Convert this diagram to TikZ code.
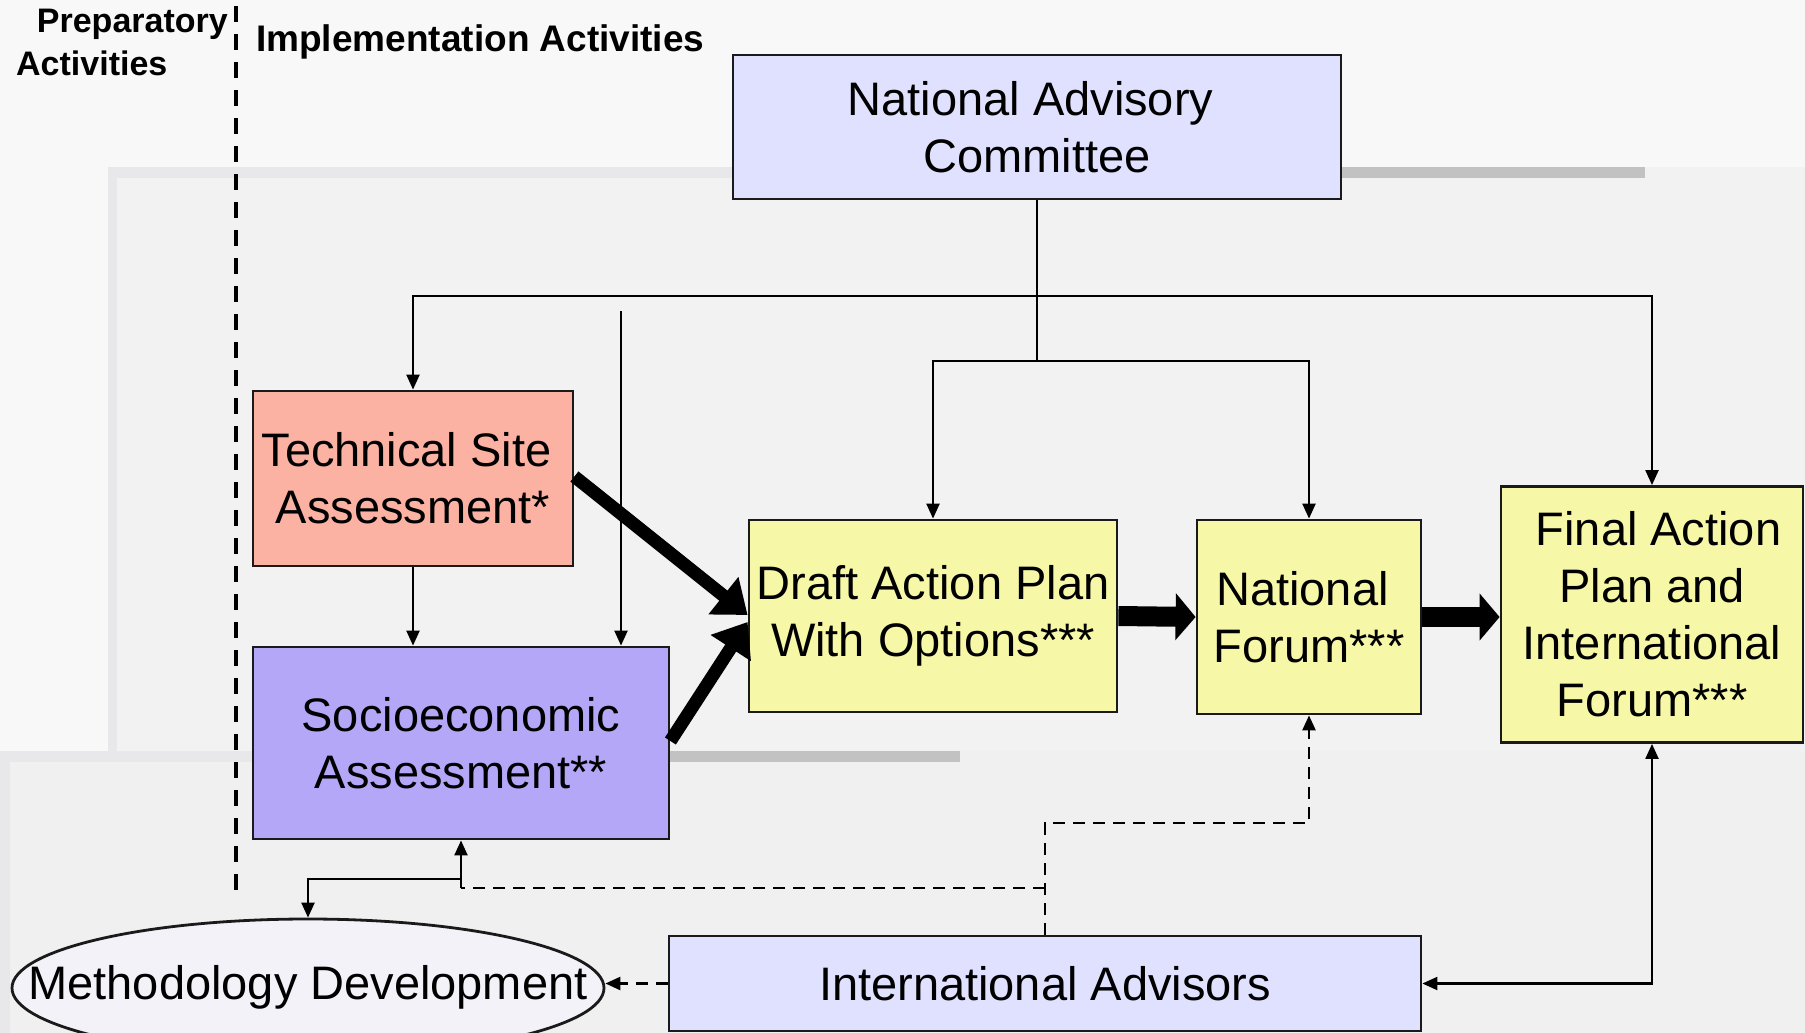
\documentclass[tikz,border=0pt]{standalone}
\usepackage{fontspec}
\setmainfont{Liberation Sans}
\usetikzlibrary{arrows.meta,shapes.geometric}
\definecolor{bgc}{HTML}{F8F8F8}
\definecolor{panelc}{HTML}{F2F2F2}
\definecolor{panelcc}{HTML}{F0F0F0}
\definecolor{barlight}{HTML}{E8E8EB}
\definecolor{bardark}{HTML}{C2C2C2}
\definecolor{lav}{HTML}{E0E0FF}
\definecolor{salmon}{HTML}{FBB2A2}
\definecolor{purp}{HTML}{B5A7F8}
\definecolor{yel}{HTML}{F7F7A8}
\definecolor{ellc}{HTML}{F2F2F8}
\definecolor{edge}{HTML}{1A1A1A}
\tikzset{
  box/.style={draw=edge, line width=2.8pt, inner sep=0pt, align=center,
    font=\fontsize{47}{57}\selectfont},
  lab/.style={inner sep=0pt, font=\fontsize{34}{40}\selectfont\bfseries},
  conn/.style={line width=2.2pt, -{Triangle[length=15pt,width=13pt]}},
  plainconn/.style={line width=2.2pt},
  biconn/.style={line width=2.2pt, {Triangle[length=15pt,width=13pt]}-{Triangle[length=15pt,width=13pt]}},
  dconn/.style={line width=2.6pt, dash pattern=on 12pt off 8pt},
  fat/.style={line width=13pt, -{Triangle[length=31pt,width=46pt]}},
  fatter/.style={line width=20pt, -{Triangle[length=20pt,width=46pt]}},
  sepline/.style={line width=3.5pt, dash pattern=on 16pt off 12pt}
}
\begin{document}
\begin{tikzpicture}[x=1pt,y=-1pt]
% background
\fill[bgc] (0,0) rectangle (1805,1033);
\useasboundingbox (0,0) rectangle (1805,1033);
\fill[panelc] (108,167) rectangle (1805,1033);
\fill[barlight] (108,167) rectangle (733,178);
\fill[bardark] (1341,167) rectangle (1645,178);
\fill[barlight] (108,167) rectangle (117,1033);
\fill[panelcc] (0,751) rectangle (1805,1033);
\fill[barlight] (0,751) rectangle (253,762);
\fill[bardark] (669,751) rectangle (960,762);
\fill[barlight] (0,751) rectangle (10,1033);

% separator
\coordinate (sepA) at (236,6);
\coordinate (sepB) at (236,892);
\draw[sepline] (sepA) -- (sepB);

% labels
\node[lab, anchor=base east] (prep) at (228,33) {Preparatory};
\node[lab, anchor=base west] (act) at (16,75) {Activities};
\node[lab, anchor=base west, font=\fontsize{37}{40}\selectfont\bfseries] (impl) at (256,52) {Implementation Activities};

% boxes
\node[box, fill=lav, minimum width=608pt, minimum height=144pt] (nac) at (1037,127)
  {National Advisory\hspace*{0.278em}\\Committee};
\node[box, fill=salmon, minimum width=320pt, minimum height=175pt] (tsa) at (413,478.5)
  {Technical Site\hspace*{0.278em}\\Assessment*};
\node[box, fill=purp, minimum width=416pt, minimum height=192pt] (se) at (461,743)
  {Socioeconomic\\Assessment**};
\node[box, fill=yel, minimum width=368pt, minimum height=192pt] (dap) at (933,616)
  {Draft Action Plan\\With Options***};
\node[box, fill=yel, minimum width=224pt, minimum height=194pt] (nf) at (1309,617)
  {National\hspace*{0.278em}\\Forum***};
\node[box, fill=yel, minimum width=302pt, minimum height=256pt] (fin) at (1652,614.5)
  {\hspace*{0.278em}Final Action\\Plan and\hspace*{0.278em}\\International\\Forum***};
\node[box, fill=lav, minimum width=752pt, minimum height=95pt] (ia) at (1045,983.5)
  {International Advisors};
\node[box, ellipse, fill=ellc, minimum width=592pt, minimum height=138pt] (md) at (308,988)
  {};
\node[inner sep=0pt, font=\fontsize{47}{57}\selectfont] (mdt) at (308,987) {Methodology Development};

% NAC distribution
\coordinate (j1) at (1037,296);
\coordinate (j2) at (1037,361);
\draw[plainconn] (nac.south) -- (j2);
\draw[conn] (j1) -| (tsa.north);
\draw[conn] (j1) -| (fin.north);
\draw[conn] (j2) -| (dap.north);
\draw[conn] (j2) -| (nf.north);

% free vertical line
\coordinate (fl) at (621,311);
\draw[conn] (fl) -- (fl |- se.north);

% TSA to SE
\draw[conn] (tsa.south) -- (tsa.south |- se.north);

% thick arrows
\draw[fat] ([yshift=2pt]tsa.east) -- ([yshift=1pt]dap.west);
\draw[fat] ([yshift=2pt]se.east) -- ([yshift=-6pt]dap.west);
\draw[fatter] (dap.east) -- (nf.west);
\draw[fatter] (nf.east) -- (fin.west |- nf.east);

% dashed from international advisors
\coordinate (d1) at (1045,823);
\coordinate (d2) at (1045,888);
\coordinate (d3) at (se.south |- 0,888);
\coordinate (s1) at (se.south |- 0,879);
\draw[dconn, -{Triangle[length=15pt,width=13pt]}] (ia.north) -- (d1) -| (nf.south);
\draw[dconn] (d2) -- (d3);
\draw[conn] (d3) -- (se.south);
\draw[conn] (s1) -| (md.north);
\draw[dconn, -{Triangle[length=15pt,width=13pt]}] (ia.west) -- (md.east |- ia.west);
\draw[biconn] (ia.east) -| (fin.south);
\end{tikzpicture}
\end{document}
